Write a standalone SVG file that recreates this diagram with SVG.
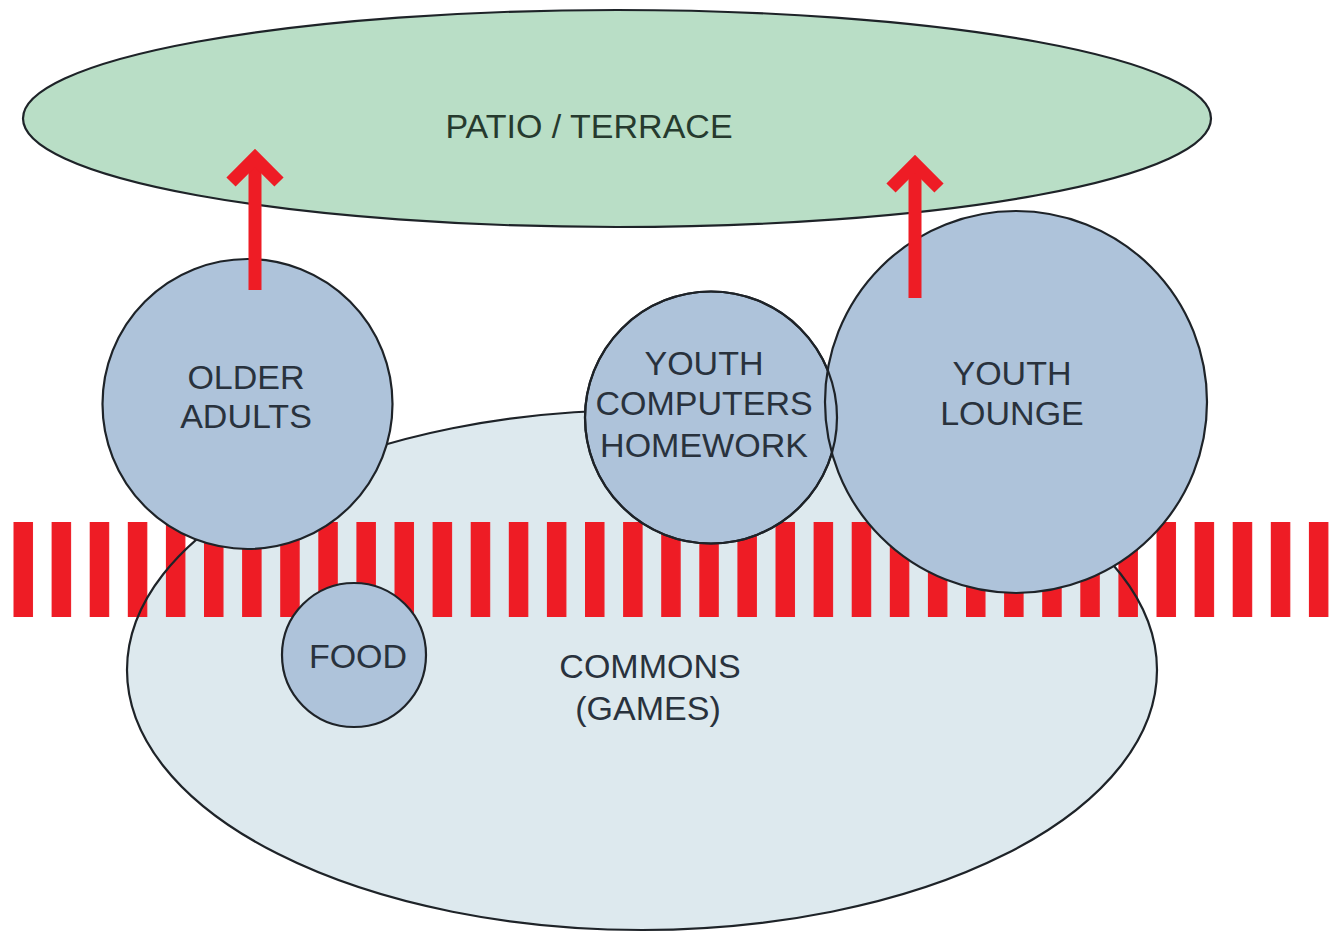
<svg xmlns="http://www.w3.org/2000/svg" width="1329" height="933" viewBox="0 0 1329 933">
<defs>
<style>
.outline{stroke:#1e2328;stroke-width:2.2}
.room{fill:#aec3da}
.lbl{font-family:"Liberation Sans",Arial,sans-serif;font-size:34px;fill:#29323d;text-anchor:middle}
.stripe{fill:#ee1c25}
.arrow{stroke:#ee1c25;stroke-width:13;fill:none;stroke-linejoin:miter;stroke-miterlimit:10}
</style>
<pattern id="stripes" x="13.5" y="0" width="38.1" height="933" patternUnits="userSpaceOnUse">
<rect x="0" y="522" width="19.5" height="95" class="stripe"/>
</pattern>
</defs>
<rect width="1329" height="933" fill="#ffffff"/>
<g id="patio">
<ellipse cx="617" cy="118.5" rx="594" ry="108.5" fill="#b9dec6" class="outline"/>
<text x="589" y="138" class="lbl" style="fill:#263a2e">PATIO / TERRACE</text>
</g>
<g id="commons">
<ellipse cx="642" cy="670" rx="515" ry="260" fill="#dde9ee"/>
</g>
<g id="corridor">
<rect x="0" y="522" width="1329" height="95" fill="url(#stripes)"/>
</g>
<g id="commons-outline">
<ellipse cx="642" cy="670" rx="515" ry="260" fill="none" class="outline"/>
<text x="650" y="678" class="lbl">COMMONS</text>
<text x="648" y="720" class="lbl">(GAMES)</text>
</g>
<g id="older-adults">
<circle cx="247.5" cy="404" r="145" class="room outline"/>
<text x="246" y="389" class="lbl">OLDER</text>
<text x="246" y="428" class="lbl">ADULTS</text>
</g>
<g id="food">
<circle cx="354" cy="655" r="72" class="room outline"/>
<text x="358" y="668" class="lbl">FOOD</text>
</g>
<g id="youth-computers">
<circle cx="711" cy="417.5" r="126" class="room outline"/>
</g>
<g id="youth-lounge">
<circle cx="1016" cy="402" r="191" class="room outline"/>
<text x="1012" y="385" class="lbl">YOUTH</text>
<text x="1012" y="425" class="lbl">LOUNGE</text>
</g>
<g id="youth-computers-overlay">
<circle cx="711" cy="417.5" r="126" fill="none" class="outline"/>
<text x="704" y="375" class="lbl">YOUTH</text>
<text x="704" y="415" class="lbl">COMPUTERS</text>
<text x="704" y="457" class="lbl">HOMEWORK</text>
</g>
<g id="connectors">
<line x1="255" y1="290" x2="255" y2="160" class="arrow"/>
<polyline points="231,182 255,158 279,182" class="arrow"/>
<line x1="915" y1="298" x2="915" y2="166" class="arrow"/>
<polyline points="891,188 915,164 939,188" class="arrow"/>
</g>
</svg>
